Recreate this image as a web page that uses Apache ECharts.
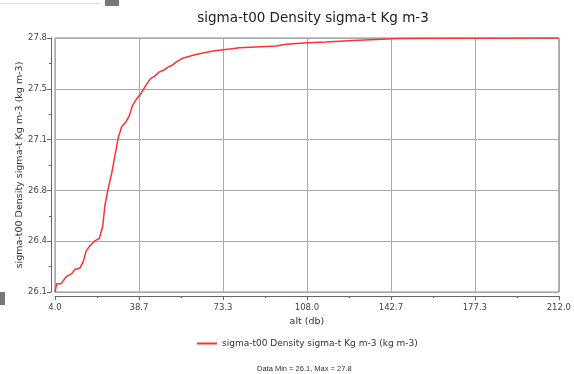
<!DOCTYPE html>
<html>
<head>
<meta charset="utf-8">
<script src="https://cdn.jsdelivr.net/npm/echarts@6/dist/echarts.min.js"></script>
<style>
  html, body { margin: 0; padding: 0; background: #fff; }
  #chart { width: 574px; height: 374px; }
</style>
</head>
<body>
<div id="chart"></div>
<script>
// pressure (db) along the cast
const alt = [
  4.0, 4.7, 6.5, 8.8, 10.9, 12.2, 14.3, 15.7, 16.8, 18.4,
  20.5, 22.3, 23.7, 24.6, 26.0, 27.4, 28.7, 30.1, 31.5, 33.2,
  34.6, 36.0, 37.7, 39.7, 41.5, 43.4, 45.2, 47.0, 48.9, 50.7,
  52.5, 54.4, 56.6, 58.9, 61.7, 63.7, 69.2, 76.1, 80.2, 95.3,
  99.4, 108.3, 115.9, 126.9, 146.1, 166.7, 212.0
];
// sigma-t (kg m-3)
const sigmaT = [
  26.10, 26.156, 26.156, 26.205, 26.223, 26.25, 26.261, 26.305, 26.372, 26.41,
  26.442, 26.459, 26.54, 26.678, 26.797, 26.893, 27.009, 27.132, 27.206, 27.237,
  27.277, 27.349, 27.392, 27.434, 27.483, 27.528, 27.545, 27.572, 27.585, 27.605,
  27.619, 27.643, 27.664, 27.675, 27.688, 27.695, 27.713, 27.726, 27.735, 27.746,
  27.758, 27.769, 27.773, 27.784, 27.797, 27.799, 27.80
];
const seriesName = 'sigma-t00 Density sigma-t Kg m-3 (kg m-3)';

const chart = echarts.init(document.getElementById('chart'));

chart.setOption({
  backgroundColor: '#fff',
  animation: false,
  textStyle: { fontFamily: 'DejaVu Sans' },
  title: {
    text: 'sigma-t00 Density sigma-t Kg m-3',
    left: 308,
    top: 6,
    textAlign: 'center',
    textStyle: { fontSize: 13.5, fontWeight: 'normal', color: '#222' }
  },
  legend: {
    data: [seriesName],
    left: 192,
    top: 334,
    itemWidth: 20,
    itemHeight: 2,
    itemGap: 5,
    icon: 'rect',
    textStyle: { fontSize: 9, color: '#333' }
  },
  grid: {
    left: 55,
    right: 13,
    top: 38,
    bottom: 82,
    show: true,
    borderColor: '#888',
    borderWidth: 1
  },
  xAxis: {
    type: 'value',
    min: 4,
    max: 212,
    interval: 208 / 6,
    offset: 4,
    name: 'alt (db)',
    nameLocation: 'middle',
    nameGap: 17,
    nameTextStyle: { fontSize: 9.5, color: '#333' },
    axisLine: { show: true, lineStyle: { color: '#666' } },
    axisTick: { show: true, length: 4, lineStyle: { color: '#666' } },
    minorTick: { show: true, splitNumber: 2, length: 2, lineStyle: { color: '#666' } },
    axisLabel: {
      fontSize: 8.5,
      color: '#444',
      margin: 7,
      formatter: v => v.toFixed(1)
    },
    splitLine: { show: true, lineStyle: { color: '#aaa', width: 1 } }
  },
  yAxis: {
    type: 'value',
    min: 26.1,
    max: 27.8,
    interval: 0.34,
    offset: 4,
    name: 'sigma-t00 Density sigma-t Kg m-3 (kg m-3)',
    nameLocation: 'middle',
    nameGap: 26,
    nameMoveOverlap: false,
    nameTextStyle: { fontSize: 9.5, color: '#333' },
    axisLine: { show: true, lineStyle: { color: '#666' } },
    axisTick: { show: true, length: 4, lineStyle: { color: '#666' } },
    minorTick: { show: true, splitNumber: 2, length: 2, lineStyle: { color: '#666' } },
    axisLabel: {
      fontSize: 8.5,
      color: '#444',
      margin: 4,
      formatter: v => v.toFixed(1)
    },
    splitLine: { show: true, lineStyle: { color: '#aaa', width: 1 } }
  },
  graphic: [
    {
      type: 'text',
      left: 257,
      top: 365,
      style: { text: 'Data Min = 26.1, Max = 27.8', fontSize: 7.5, fill: '#333' }
    },
    { type: 'rect', shape: { x: 105, y: 0, width: 14, height: 6 }, style: { fill: '#777' } },
    { type: 'rect', shape: { x: 0, y: 3, width: 100, height: 1 }, style: { fill: '#ddd' } },
    { type: 'rect', shape: { x: 0, y: 292, width: 5, height: 13 }, style: { fill: '#777' } }
  ],
  series: [
    {
      name: seriesName,
      type: 'line',
      data: alt.map((a, i) => [a, sigmaT[i]]),
      showSymbol: false,
      smooth: false,
      lineStyle: { color: '#ff3030', width: 1.5 },
      itemStyle: { color: '#ff3030' }
    }
  ]
});
</script>
</body>
</html>
